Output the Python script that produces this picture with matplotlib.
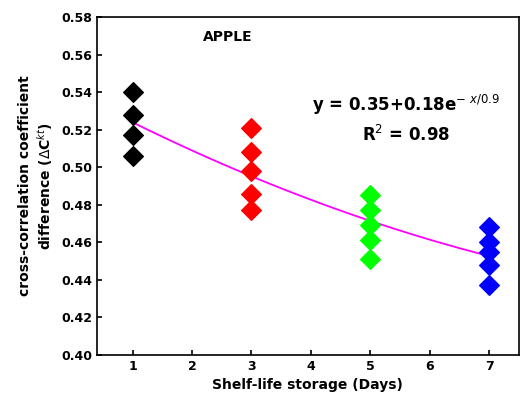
import numpy as np
import matplotlib.pyplot as plt

days = [1, 3, 5, 7]
colors = ["black", "red", "#00ff00", "#0000ff"]
values = [
    [0.540, 0.528, 0.517, 0.506],
    [0.521, 0.508, 0.498, 0.486, 0.477],
    [0.485, 0.477, 0.469, 0.461, 0.451],
    [0.468, 0.460, 0.455, 0.448, 0.437],
]

fig = plt.figure(figsize=(5.21, 4.07), dpi=100)
ax = fig.add_axes([0.186, 0.128, 0.81, 0.83])

for d, c, vals in zip(days, colors, values):
    ax.scatter([d] * len(vals), vals, marker="D", s=100, color=c, zorder=3)

# fitted trend through all points
xs = np.concatenate([[d] * len(v) for d, v in zip(days, values)])
ys = np.concatenate(values)
coef = np.polyfit(xs, ys, 2)
xf = np.linspace(1, 7, 100)
ax.plot(xf, np.polyval(coef, xf), color="magenta", lw=1.3, zorder=2)

ax.set_xlim(0.4, 7.5)
ax.set_ylim(0.40, 0.58)
ax.set_xticks(range(1, 8))
ax.set_yticks(np.arange(0.40, 0.581, 0.02))
ax.yaxis.set_major_formatter(plt.FormatStrFormatter("%.2f"))
ax.tick_params(direction="in", labelsize=9, width=1.2)
for lbl in ax.get_xticklabels() + ax.get_yticklabels():
    lbl.set_fontweight("bold")
for s in ax.spines.values():
    s.set_linewidth(1.2)

ax.set_xlabel("Shelf-life storage (Days)", fontsize=10, fontweight="bold")
ax.set_ylabel("cross-correlation coefficient\ndifference ($\\Delta$C$^{kt}$)",
              fontsize=10, fontweight="bold")
ax.text(2.6, 0.567, "APPLE", fontsize=10, fontweight="bold", ha="center")
ax.text(5.6, 0.530, "y = 0.35+0.18e$^{-\\ x/0.9}$", fontsize=12,
        fontweight="bold", ha="center")
ax.text(5.6, 0.514, "R$^{2}$ = 0.98", fontsize=12, fontweight="bold", ha="center")

fig.savefig("out.png")
